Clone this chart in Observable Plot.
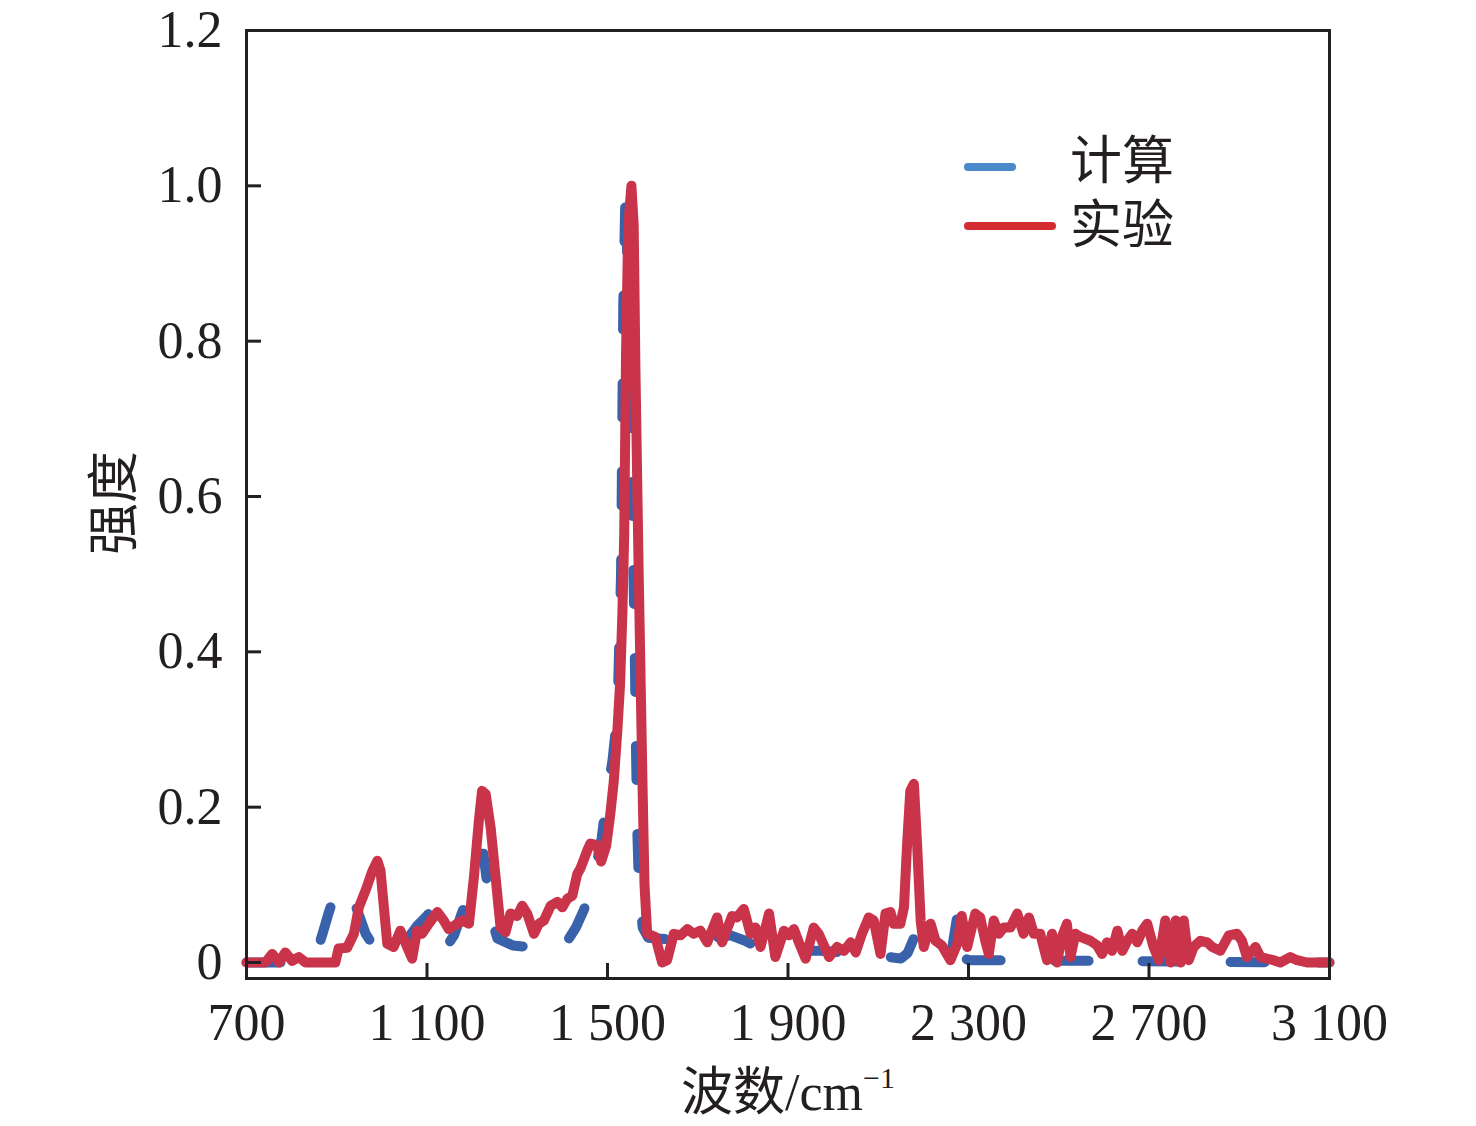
<!DOCTYPE html>
<html><head><meta charset="utf-8">
<script src="https://cdn.jsdelivr.net/npm/d3@7"></script>
<script src="https://cdn.jsdelivr.net/npm/@observablehq/plot@0.6"></script>
<style>
body{margin:0;background:#fff;}
#wrap{position:relative;width:1476px;height:1126px;overflow:hidden;}
.t{position:absolute;font-family:"Liberation Serif","Noto Sans CJK SC",serif;font-size:52px;color:#231f20;white-space:nowrap;line-height:52px;}
.cjk{font-family:"Noto Sans CJK SC",sans-serif;}
</style></head><body><div id="wrap"></div>
<script>
// 计算 (calculated) spectrum
const calcWn = [700,760,820,845,857,870,882,897,910,922,935,950,964,985,1005,1026,1050,1079,1100,1112,1123,1135,1145,1160,1175,1185,1203,1215,1225,1236,1246,1256,1290,1323,1350,1380,1407,1430,1447,1465,1487,1500,1511,1522,1530,1535,1540,1546,1552,1556,1560,1563,1566,1570,1578,1590,1630,1668,1720,1773,1805,1839,1900,1972,2020,2061,2110,2150,2165,2178,2189,2230,2262,2276,2282,2290,2300,2600,2800,3100];
const calcVal = [0,0,0,0.003,0.015,0.04,0.064,0.09,0.1,0.095,0.084,0.06,0.037,0.018,0.008,0.006,0.025,0.048,0.06,0.07,0.067,0.045,0.022,0.035,0.06,0.076,0.122,0.14,0.14,0.089,0.05,0.031,0.022,0.02,0.012,0.012,0.024,0.045,0.067,0.095,0.16,0.22,0.26,0.32,0.5,0.85,1.0,0.85,0.68,0.55,0.42,0.28,0.17,0.09,0.045,0.032,0.03,0.026,0.03,0.035,0.028,0.018,0.015,0.015,0.013,0.012,0.008,0.005,0.012,0.03,0.005,0.005,0.012,0.063,0.032,0.006,0.003,0.002,0.001,0];
// 实验 (experimental) spectrum
const expWn = [700,742,757,772,786,801,816,831,897,904,923,938,949,964,979,990,997,1012,1026,1041,1056,1067,1078,1089,1104,1123,1137,1148,1167,1178,1193,1204,1215,1222,1230,1241,1252,1263,1274,1285,1300,1311,1322,1337,1348,1359,1374,1389,1400,1411,1422,1433,1440,1455,1462,1477,1486,1497,1506,1514,1522,1528,1533,1537,1541,1546,1553,1558,1562,1569,1577,1582,1588,1606,1621,1632,1647,1662,1677,1691,1706,1721,1743,1754,1776,1787,1802,1817,1828,1839,1858,1872,1891,1902,1913,1924,1939,1957,1968,1991,2009,2024,2039,2050,2064,2079,2090,2105,2116,2127,2134,2149,2157,2164,2171,2179,2186,2194,2201,2216,2227,2241,2260,2275,2285,2297,2304,2315,2326,2337,2345,2356,2367,2378,2393,2408,2422,2434,2445,2459,2474,2485,2496,2507,2518,2526,2537,2548,2570,2585,2596,2607,2618,2630,2641,2652,2663,2674,2685,2696,2710,2722,2736,2748,2759,2770,2777,2788,2799,2814,2829,2840,2858,2877,2895,2906,2917,2936,2947,2961,2976,2991,3013,3028,3050,3100];
const expVal = [0,0,0.011,0,0.013,0.002,0.007,0,0,0.018,0.019,0.037,0.071,0.093,0.118,0.131,0.118,0.024,0.02,0.041,0.02,0.005,0.041,0.037,0.05,0.065,0.054,0.043,0.05,0.054,0.05,0.11,0.183,0.221,0.217,0.174,0.11,0.045,0.039,0.063,0.06,0.073,0.063,0.037,0.05,0.054,0.073,0.078,0.071,0.082,0.086,0.114,0.121,0.144,0.153,0.151,0.13,0.15,0.19,0.234,0.3,0.36,0.45,0.55,0.78,0.95,1.0,0.95,0.76,0.505,0.247,0.1,0.037,0.033,0,0.003,0.037,0.035,0.043,0.037,0.041,0.026,0.058,0.026,0.06,0.058,0.069,0.037,0.045,0.02,0.063,0.007,0.041,0.035,0.043,0.026,0.005,0.045,0.037,0.007,0.02,0.015,0.026,0.013,0.037,0.058,0.054,0.011,0.063,0.065,0.05,0.05,0.071,0.153,0.221,0.23,0.153,0.054,0.02,0.05,0.028,0.022,0.003,0.024,0.06,0.02,0.037,0.063,0.058,0.028,0.011,0.054,0.037,0.045,0.045,0.063,0.037,0.058,0.037,0.037,0.003,0.037,0,0.033,0.05,0.007,0.037,0.033,0.028,0.022,0.011,0.026,0.015,0.041,0.015,0.028,0.037,0.026,0.041,0.05,0.02,0.003,0.054,0,0.054,0,0.054,0.003,0.02,0.028,0.026,0.02,0.015,0.035,0.037,0.028,0.007,0.02,0.007,0.005,0.003,0,0.007,0.003,0,0];

const xTicks = [700,1100,1500,1900,2300,2700,3100];
const xTickLabels = ["700","1 100","1 500","1 900","2 300","2 700","3 100"];
const yTicks = [0,0.2,0.4,0.6,0.8,1.0,1.2];
const yTickLabels = ["0","0.2","0.4","0.6","0.8","1.0","1.2"];
const seriesNames = ["计算","实验"];
const xTitle = ["波数","/cm","−1"];
const yTitle = "强度";

const calc = calcWn.map((x,i)=>({x, y: calcVal[i]}));
const exp = expWn.map((x,i)=>({x, y: expVal[i]}));

const chart = Plot.plot({
  width: 1476, height: 1126,
  marginLeft: 246, marginRight: 147, marginTop: 30, marginBottom: 148,
  style: {fontFamily: '"Liberation Serif","Times New Roman",serif', fontSize: "52px", color: "#231f20", background: "#fff"},
  x: {domain: [700, 3100]},
  y: {domain: [-0.0206, 1.2]},
  marks: [
    Plot.line(calc, {x: "x", y: "y", stroke: "#3a62aa", strokeWidth: 10, strokeDasharray: "34,54", strokeLinecap: "round", strokeLinejoin: "round"}),
    Plot.line(exp, {x: "x", y: "y", stroke: "#c9344b", strokeWidth: 10, strokeLinecap: "round", strokeLinejoin: "round"}),
    Plot.frame({stroke: "#231f20", strokeWidth: 3}),
    Plot.axisX(xTicks, {tickSize: -15, tickPadding: 40, strokeWidth: 3, fontSize: 52, label: null,
      tickFormat: d => xTickLabels[xTicks.indexOf(d)]}),
    Plot.axisY(yTicks, {tickSize: -15, tickPadding: 39, strokeWidth: 3, fontSize: 52, label: null,
      tickFormat: d => yTickLabels[yTicks.indexOf(d)]})
  ]
});
const wrap = document.getElementById("wrap");
wrap.appendChild(chart);

// axis titles
const xt = document.createElement("div");
xt.className = "t";
xt.style.left = "788px"; xt.style.top = "1062px"; xt.style.transform = "translateX(-50%)";
xt.innerHTML = `<span class="cjk">${xTitle[0]}</span>${xTitle[1]}<sup style="font-size:30px;vertical-align:22px;line-height:0">${xTitle[2]}</sup>`;
wrap.appendChild(xt);

const yt = document.createElement("div");
yt.className = "t cjk";
yt.style.left = "110px"; yt.style.top = "503px";
yt.style.transform = "translate(-50%,-50%) rotate(-90deg)";
yt.textContent = yTitle;
wrap.appendChild(yt);

// legend
const legendColors = ["#4a8acb", "#d42a31"];
const legendLen = [44, 84];
const legendY = [167, 226];
const ns = "http://www.w3.org/2000/svg";
const ls = document.createElementNS(ns, "svg");
ls.setAttribute("width", 110); ls.setAttribute("height", 100);
ls.style.position = "absolute"; ls.style.left = "960px"; ls.style.top = "147px";
seriesNames.forEach((name, i) => {
  const l = document.createElementNS(ns, "line");
  l.setAttribute("x1", 8); l.setAttribute("x2", 8 + legendLen[i]);
  l.setAttribute("y1", legendY[i] - 147); l.setAttribute("y2", legendY[i] - 147);
  l.setAttribute("stroke", legendColors[i]); l.setAttribute("stroke-width", 8);
  l.setAttribute("stroke-linecap", "round");
  ls.appendChild(l);
});
wrap.appendChild(ls);
const lt = document.createElement("div");
lt.className = "t cjk";
lt.style.left = "1070px"; lt.style.top = "125px";
lt.style.lineHeight = "64px";
lt.innerHTML = seriesNames.join("<br>");
wrap.appendChild(lt);
</script></body></html>
